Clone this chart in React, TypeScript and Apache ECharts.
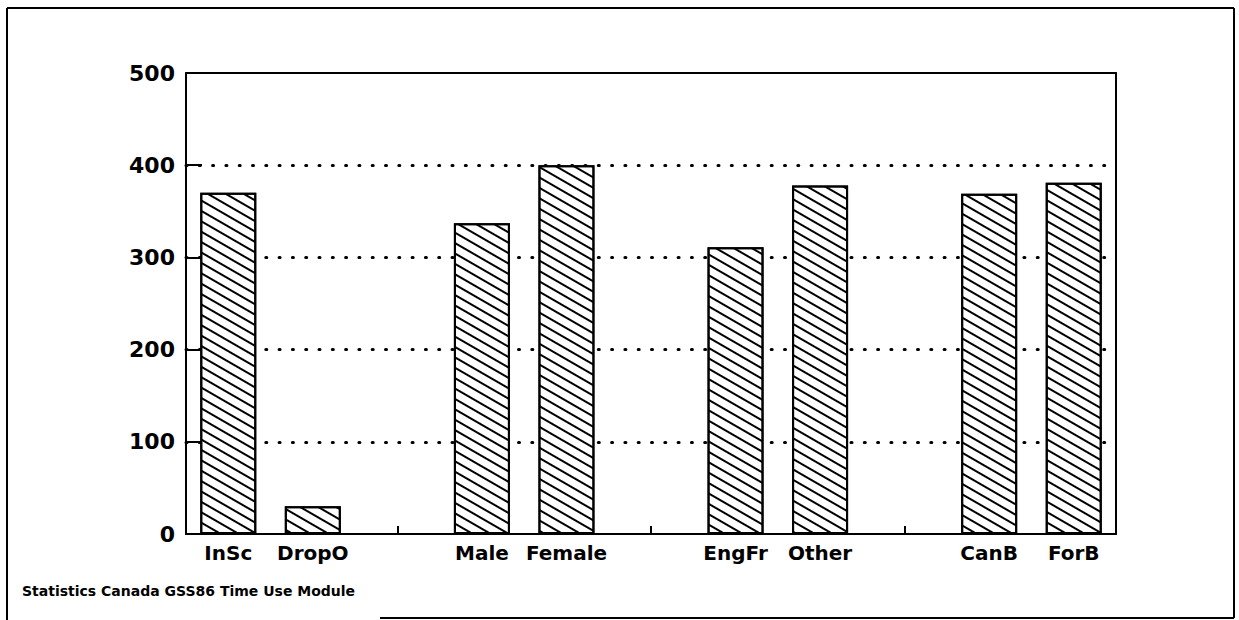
import React, { useEffect, useRef } from 'react';
import * as echarts from 'echarts';

// Categories (empty strings are the gaps between the four groups)
const categoryLabels = ['InSc', 'DropO', '', 'Male', 'Female', '', 'EngFr', 'Other', '', 'CanB', 'ForB'];
const barValues = [370, 30, null, 337, 400, null, 311, 378, null, 369, 381];
const yMin = 0;
const yMax = 500;
const yStep = 100;
const footerText = 'Statistics Canada GSS86 Time Use Module';

const categoryKeys = categoryLabels.map((l, i) => (l === '' ? `gap${i}` : l));

export default function App() {
  const ref = useRef<HTMLDivElement>(null);

  useEffect(() => {
    if (!ref.current) return;
    const chart = echarts.init(ref.current, null, { renderer: 'svg' });
    const font = '"DejaVu Sans", Verdana, sans-serif';
    chart.setOption({
      animation: false,
      backgroundColor: '#ffffff',
      grid: {
        left: 186,
        right: 123,
        top: 73,
        bottom: 86,
        show: false,
      },
      xAxis: [
        {
          type: 'category',
          data: categoryKeys,
          boundaryGap: true,
          axisLine: { show: true, lineStyle: { color: '#000', width: 2 } },
          axisTick: {
            show: true,
            inside: true,
            length: 8,
            alignWithLabel: true,
            interval: (_i: number, v: string) => String(v).startsWith('gap'),
            lineStyle: { color: '#000', width: 2 },
          },
          axisLabel: {
            interval: 0,
            margin: 9,
            color: '#000',
            fontFamily: font,
            fontWeight: 'bold',
            fontSize: 20,
            formatter: (v: string) => (String(v).startsWith('gap') ? '' : v),
          },
          splitLine: { show: false },
          z: 3,
        },
        {
          type: 'category',
          data: categoryKeys,
          position: 'top',
          axisLine: { show: true, onZero: false, lineStyle: { color: '#000', width: 2 } },
          axisTick: { show: false },
          axisLabel: { show: false },
          splitLine: { show: false },
          z: 3,
        },
      ],
      yAxis: [
        {
          type: 'value',
          min: yMin,
          max: yMax,
          interval: yStep,
          axisLine: { show: true, lineStyle: { color: '#000', width: 2 } },
          axisTick: { show: true, inside: true, length: 16, lineStyle: { color: '#000', width: 2 } },
          axisLabel: {
            margin: 11,
            color: '#000',
            fontFamily: font,
            fontWeight: 'bold',
            fontSize: 22,
          },
          splitLine: {
            show: true,
            showMinLine: false,
            showMaxLine: false,
            lineStyle: { color: '#000', width: 3, type: [1, 12.3], cap: 'round' },
          },
        },
        {
          type: 'value',
          min: yMin,
          max: yMax,
          interval: yStep,
          position: 'right',
          axisLine: { show: true, onZero: false, lineStyle: { color: '#000', width: 2 } },
          axisTick: { show: false },
          axisLabel: { show: false },
          splitLine: { show: false },
          z: 3,
        },
      ],
      series: [
        {
          type: 'bar',
          data: barValues,
          barWidth: 56,
          z: 2,
          itemStyle: {
            color: '#ffffff',
            borderColor: '#000',
            borderWidth: 2,
            decal: {
              symbol: 'rect',
              symbolSize: 1,
              dashArrayX: [1, 0],
              dashArrayY: [2, 7],
              rotation: Math.PI / 6,
              color: '#000',
              backgroundColor: '#ffffff',
            },
          },
        },
      ],
      graphic: [
        { type: 'line', shape: { x1: 7, y1: 8, x2: 1234, y2: 8 }, style: { stroke: '#000', lineWidth: 2 } },
        { type: 'line', shape: { x1: 7, y1: 8, x2: 7, y2: 620 }, style: { stroke: '#000', lineWidth: 2 } },
        { type: 'line', shape: { x1: 1234, y1: 8, x2: 1234, y2: 618 }, style: { stroke: '#000', lineWidth: 2 } },
        { type: 'line', shape: { x1: 380, y1: 618, x2: 1234, y2: 618 }, style: { stroke: '#000', lineWidth: 2 } },
        {
          type: 'text',
          left: 22,
          top: 584,
          style: {
            text: footerText,
            fill: '#000',
            font: `bold 14px ${font}`,
          },
        },
      ],
    });
    return () => chart.dispose();
  }, []);

  return <div ref={ref} style={{ position: 'absolute', left: 0, top: 0, width: 1239, height: 620 }} />;
}
